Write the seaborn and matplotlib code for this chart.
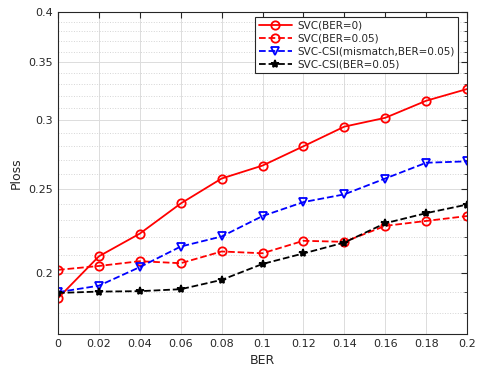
import numpy as np
import pandas as pd
import seaborn as sns
import matplotlib.pyplot as plt
from matplotlib.ticker import FixedLocator, NullFormatter

# Dados
ber = [0, 0.02, 0.04, 0.06, 0.08, 0.1, 0.12, 0.14, 0.16, 0.18, 0.2]
svc_ber0 = [0.187, 0.209, 0.222, 0.2405, 0.257, 0.266, 0.280, 0.295, 0.302, 0.316, 0.326]
svc_ber005 = [0.2016, 0.2037, 0.2063, 0.2052, 0.2117, 0.2107, 0.2178, 0.2172, 0.2266, 0.2296, 0.2326]
csi_mismatch = [0.190, 0.1933, 0.2031, 0.2145, 0.2203, 0.2326, 0.2414, 0.2464, 0.257, 0.268, 0.269]
csi_ber005 = [0.1896, 0.1903, 0.1905, 0.1915, 0.1963, 0.2048, 0.2106, 0.2168, 0.2282, 0.2344, 0.2398]

nomes = ['SVC(BER=0)', 'SVC(BER=0.05)', 'SVC-CSI(mismatch,BER=0.05)', 'SVC-CSI(BER=0.05)']
series = [svc_ber0, svc_ber005, csi_mismatch, csi_ber005]

xticks = [0, 0.02, 0.04, 0.06, 0.08, 0.1, 0.12, 0.14, 0.16, 0.18, 0.2]
xtick_labels = ['0', '0.02', '0.04', '0.06', '0.08', '0.1', '0.12', '0.14', '0.16', '0.18', '0.2']
yticks = [0.2, 0.25, 0.3, 0.35, 0.4]
ytick_labels = ['0.2', '0.25', '0.3', '0.35', '0.4']

df = pd.concat([pd.DataFrame({'BER': ber, 'Ploss': v, 'serie': n}) for n, v in zip(nomes, series)])

sns.set_style('white')
plt.rcParams['font.family'] = ['DejaVu Sans']

estilos = {
    'SVC(BER=0)': dict(color='red', linestyle='-', marker='o', mfc='none', ms=6, mew=1.3),
    'SVC(BER=0.05)': dict(color='red', linestyle='--', marker='o', mfc='none', ms=6, mew=1.3),
    'SVC-CSI(mismatch,BER=0.05)': dict(color='blue', linestyle='--', marker='v', mfc='none', ms=6, mew=1.3),
    'SVC-CSI(BER=0.05)': dict(color='black', linestyle='--', marker='*', mfc='black', ms=6, mew=1.2),
}

fig = plt.figure(figsize=(4.85, 3.77), dpi=100)
ax = fig.add_axes([0.1196, 0.114, 0.8434, 0.854])

for n in nomes:
    e = estilos[n]
    sns.lineplot(data=df[df['serie'] == n], x='BER', y='Ploss', ax=ax, label=n,
                 color=e['color'], linestyle=e['linestyle'], marker=e['marker'],
                 markerfacecolor=e['mfc'], markeredgecolor=e['color'],
                 markersize=e['ms'], markeredgewidth=e['mew'], linewidth=1.3)

ax.set_yscale('log')
ax.set_xlim(0, 0.2)
ax.set_ylim(0.17, 0.4)
ax.xaxis.set_major_locator(FixedLocator(xticks))
ax.set_xticklabels(xtick_labels)
ax.yaxis.set_major_locator(FixedLocator(yticks))
ax.set_yticklabels(ytick_labels)
ax.yaxis.set_minor_locator(FixedLocator(np.round(np.arange(0.17, 0.401, 0.01), 2)))
ax.yaxis.set_minor_formatter(NullFormatter())

ax.grid(True, which='major', color='#dcdcdc', linewidth=0.7)
ax.grid(True, which='minor', axis='y', color='#d5d5d5', linestyle=':', linewidth=0.7)
ax.set_axisbelow(True)

for s in ax.spines.values():
    s.set_color('#262626')
    s.set_linewidth(0.8)
ax.tick_params(axis='both', which='both', direction='in', top=True, right=True,
               labelsize=8, colors='#262626')
ax.tick_params(which='major', length=4)
ax.tick_params(which='minor', length=2.5)

ax.set_xlabel('BER', fontsize=9, color='#262626')
ax.set_ylabel('Ploss', fontsize=9, color='#262626')

leg = ax.legend(loc='upper right', bbox_to_anchor=(0.982, 0.99), fontsize=7.5, frameon=True,
                fancybox=False, edgecolor='#262626', framealpha=1, borderpad=0.3,
                labelspacing=0.3, handlelength=3.2, handletextpad=0.5, borderaxespad=0.2)
leg.get_frame().set_linewidth(0.8)

plt.savefig('out.png', dpi=100)
